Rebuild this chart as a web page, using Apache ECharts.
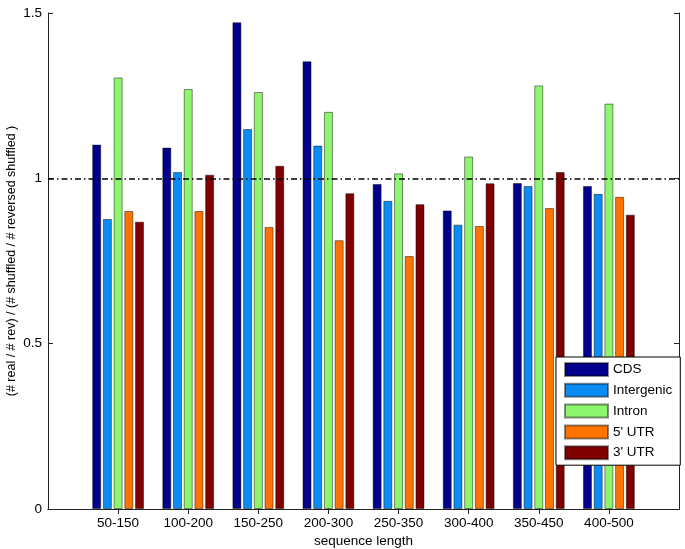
<!DOCTYPE html>
<html>
<head>
<meta charset="utf-8">
<script src="https://cdn.jsdelivr.net/npm/echarts@6/dist/echarts.min.js"></script>
<style>
html,body{margin:0;padding:0;background:#fff;}
#c{width:685px;height:549px;}
</style>
</head>
<body>
<div id="c"></div>
<script>
const categories = ['50-150','100-200','150-250','200-300','250-350','300-400','350-450','400-500'];
const seriesNames = ['CDS','Intergenic','Intron',"5' UTR","3' UTR"];
const cds        = [1.102, 1.093, 1.472, 1.354, 0.983, 0.903, 0.986, 0.977];
const intergenic = [0.877, 1.019, 1.149, 1.099, 0.932, 0.860, 0.977, 0.953];
const intron     = [1.305, 1.270, 1.261, 1.201, 1.015, 1.066, 1.281, 1.226];
const utr5       = [0.901, 0.901, 0.853, 0.813, 0.765, 0.856, 0.910, 0.944];
const utr3       = [0.869, 1.011, 1.038, 0.955, 0.922, 0.985, 1.019, 0.890];
const yTicks = [0, 0.5, 1, 1.5];
const refLine = 1;

const colors = ['#00008B','#0A8CF2','#8EF66E','#FF7300','#7F0000'];
const allData = [cds, intergenic, intron, utr5, utr3];

const axisData = [''].concat(categories, ['']);
const pad = arr => [null].concat(arr, [null]);
const font = "'Liberation Sans', Arial, Helvetica, sans-serif";
const axisCol = '#222';

const series = allData.map((d, i) => {
  const s = {
    name: seriesNames[i],
    type: 'bar',
    data: pad(d),
    barWidth: 9,
    barGap: '19%',
    itemStyle: { color: colors[i], borderColor: 'rgba(0,0,0,0.45)', borderWidth: 1 },
    emphasis: { disabled: true },
    animation: false
  };
  if (i === 0) {
    s.markLine = {
      silent: true,
      symbol: ['none','none'],
      label: { show: false },
      lineStyle: { color: '#000', width: 1.5, type: [6,3,1.5,3] },
      data: [{ yAxis: refLine }],
      animation: false
    };
  }
  return s;
});

const tickInt = (idx) => idx > 0 && idx < axisData.length - 1;

const chart = echarts.init(document.getElementById('c'), null, { renderer: 'canvas' });
chart.setOption({
  animation: false,
  backgroundColor: '#fff',
  grid: { left: 48, right: 6, top: 13, bottom: 40, containLabel: false, outerBoundsMode: 'none' },
  legend: {
    orient: 'vertical',
    left: 556,
    top: 357,
    padding: [5, 8, 5, 8],
    icon: 'rect',
    itemWidth: 43,
    itemHeight: 13,
    itemGap: 5.8,
    backgroundColor: '#fff',
    borderColor: '#000',
    borderWidth: 1,
    borderRadius: 0,
    textStyle: { fontFamily: font, fontSize: 13.5, color: '#000', padding: [0, 0, 0, 0] },
    data: seriesNames
  },
  xAxis: [
    {
      type: 'category',
      data: axisData,
      boundaryGap: false,
      position: 'bottom',
      name: 'sequence length',
      nameLocation: 'middle',
      nameGap: 25,
      nameMoveOverlap: false,
      nameTextStyle: { fontFamily: font, fontSize: 13.5, color: '#000' },
      axisLine: { show: true, lineStyle: { color: axisCol, width: 1 } },
      axisTick: { show: true, inside: true, length: 5, interval: tickInt, lineStyle: { color: axisCol } },
      axisLabel: { interval: 0, margin: 7, fontFamily: font, fontSize: 13.5, color: '#000' },
      splitLine: { show: false }
    },
    {
      type: 'category',
      data: axisData,
      boundaryGap: false,
      position: 'top',
      axisLine: { show: true, lineStyle: { color: axisCol, width: 1 } },
      axisTick: { show: true, inside: true, length: 5, interval: tickInt, lineStyle: { color: axisCol } },
      axisLabel: { show: false },
      splitLine: { show: false }
    }
  ],
  yAxis: [
    {
      type: 'value',
      min: yTicks[0],
      max: yTicks[yTicks.length - 1],
      interval: yTicks[1] - yTicks[0],
      position: 'left',
      name: '(# real / # rev) / (# shuffled / # reversed shuffled )',
      nameLocation: 'middle',
      nameGap: 30,
      nameMoveOverlap: false,
      nameTextStyle: { fontFamily: font, fontSize: 12.5, color: '#000' },
      axisLine: { show: true, lineStyle: { color: axisCol, width: 1 } },
      axisTick: { show: true, inside: true, length: 5, lineStyle: { color: axisCol } },
      axisLabel: { margin: 6, fontFamily: font, fontSize: 13.5, color: '#000' },
      splitLine: { show: false }
    },
    {
      type: 'value',
      min: yTicks[0],
      max: yTicks[yTicks.length - 1],
      interval: yTicks[1] - yTicks[0],
      position: 'right',
      axisLine: { show: true, lineStyle: { color: axisCol, width: 1 } },
      axisTick: { show: true, inside: true, length: 5, lineStyle: { color: axisCol } },
      axisLabel: { show: false },
      splitLine: { show: false }
    }
  ],
  series: series
});
</script>
</body>
</html>
